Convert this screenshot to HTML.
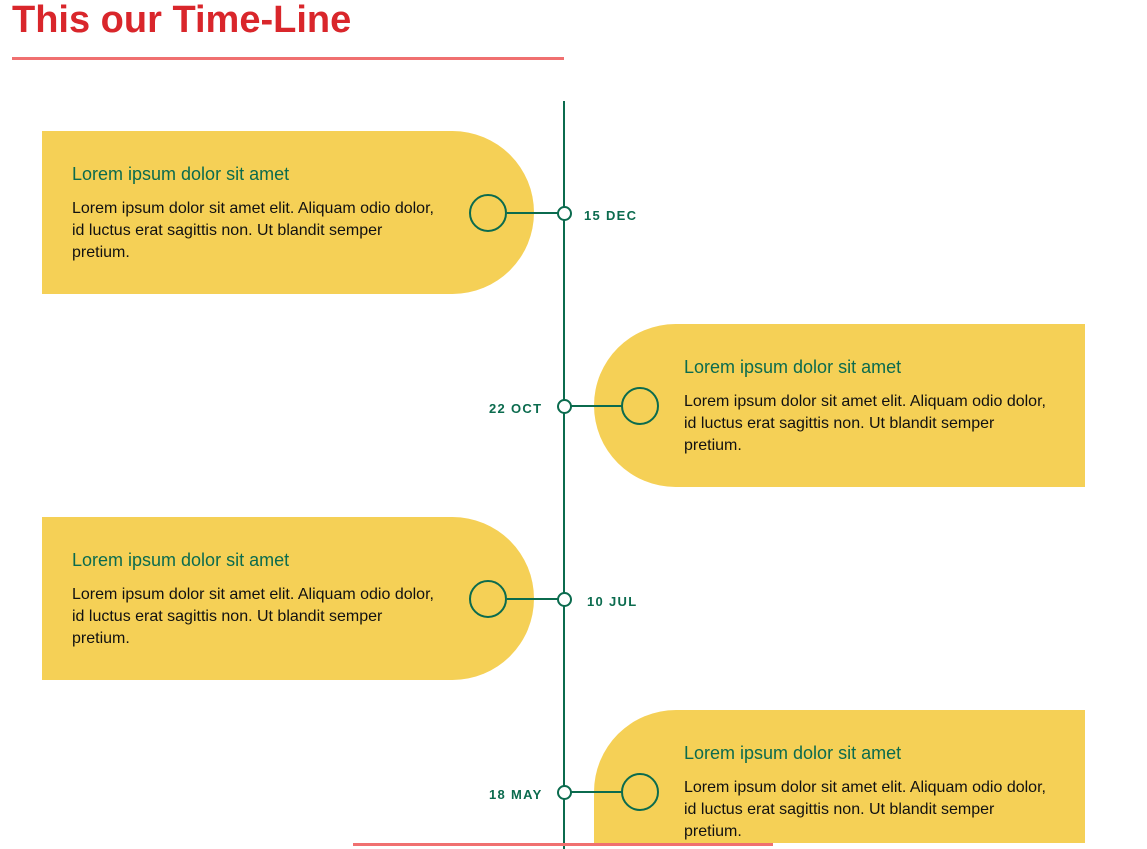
<!DOCTYPE html>
<html><head><style>
body{margin:0;width:1147px;height:849px;overflow:hidden;background:#fff;font-family:"Liberation Sans",Arial,sans-serif;position:relative}
h1{position:absolute;left:12px;top:0px;margin:0;font-size:38px;line-height:40px;color:#d9262b;font-weight:bold}
.ul{position:absolute;left:12px;top:57px;width:552px;height:3px;background:#f07070}
.vl{position:absolute;left:563px;top:101px;width:2px;height:748px;background:#0b6b4e}
.card{position:absolute;width:492px;height:163px;background:#f5d056;box-sizing:border-box}
.L{left:42px;border-radius:0 82px 82px 0;padding:32px 0 0 30px}
.R{left:594px;width:491px;border-radius:82px 0 0 82px;padding:32px 0 0 90px}
.t{color:#0b6b4e;font-size:18px;line-height:22px;margin-bottom:13px}
.b{font-size:16px;line-height:22px;color:#111;width:368px}
.c{position:absolute;width:34px;height:34px;border:2px solid #0b6b4e;border-radius:50%}
.d{position:absolute;width:11px;height:11px;border:2px solid #0b6b4e;border-radius:50%;background:#fff}
.h{position:absolute;height:2px;background:#0b6b4e}
.lab{position:absolute;font-size:13px;font-weight:bold;letter-spacing:1.3px;color:#0b6b4e}
.bl{position:absolute;left:353px;top:843px;width:420px;height:3px;background:#f07070}
</style></head><body>
<h1>This our Time-Line</h1>
<div class="ul"></div>
<div class="vl"></div>

<div class="card L" style="top:131px"><div class="t">Lorem ipsum dolor sit amet</div><div class="b">Lorem ipsum dolor sit amet elit. Aliquam odio dolor, id luctus erat sagittis non. Ut blandit semper pretium.</div></div>
<div class="h" style="left:507px;top:212px;width:57px"></div>
<div class="c" style="left:469px;top:194px"></div>
<div class="d" style="left:557px;top:206px"></div>
<div class="lab" style="left:584px;top:208px">15 DEC</div>

<div class="card R" style="top:324px"><div class="t">Lorem ipsum dolor sit amet</div><div class="b">Lorem ipsum dolor sit amet elit. Aliquam odio dolor, id luctus erat sagittis non. Ut blandit semper pretium.</div></div>
<div class="h" style="left:564px;top:405px;width:58px"></div>
<div class="c" style="left:621px;top:387px"></div>
<div class="d" style="left:557px;top:399px"></div>
<div class="lab" style="left:489px;top:401px">22 OCT</div>

<div class="card L" style="top:517px"><div class="t">Lorem ipsum dolor sit amet</div><div class="b">Lorem ipsum dolor sit amet elit. Aliquam odio dolor, id luctus erat sagittis non. Ut blandit semper pretium.</div></div>
<div class="h" style="left:507px;top:598px;width:57px"></div>
<div class="c" style="left:469px;top:580px"></div>
<div class="d" style="left:557px;top:592px"></div>
<div class="lab" style="left:587px;top:594px">10 JUL</div>

<div class="card R" style="top:710px;height:133px;border-radius:82px 0 0 0"><div class="t">Lorem ipsum dolor sit amet</div><div class="b">Lorem ipsum dolor sit amet elit. Aliquam odio dolor, id luctus erat sagittis non. Ut blandit semper pretium.</div></div>
<div class="h" style="left:564px;top:791px;width:58px"></div>
<div class="c" style="left:621px;top:773px"></div>
<div class="d" style="left:557px;top:785px"></div>
<div class="lab" style="left:489px;top:787px">18 MAY</div>
<div class="bl"></div>
</body></html>
